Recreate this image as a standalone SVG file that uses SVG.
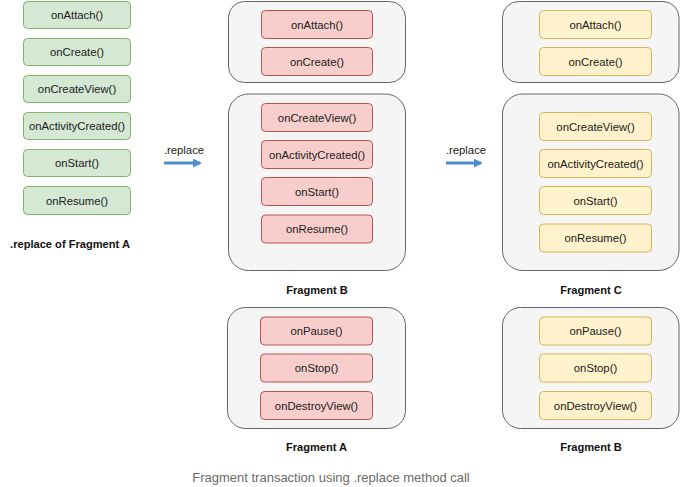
<svg xmlns="http://www.w3.org/2000/svg" width="680" height="487" viewBox="0 0 680 487">
<defs>
<style>
.g{fill:#d5e8d4;stroke:#82b366;stroke-width:1}
.r{fill:#f8cecc;stroke:#b85450;stroke-width:1}
.y{fill:#fff2cc;stroke:#d6b656;stroke-width:1}
.c{fill:#f5f5f5;stroke:#666666;stroke-width:1}
.t{font-family:"Liberation Sans",Arial,sans-serif;font-size:11.3px;fill:#1a1a1a;text-anchor:middle;dominant-baseline:central}
.b{font-family:"Liberation Sans",Arial,sans-serif;font-size:11.1px;font-weight:bold;fill:#111;text-anchor:middle;dominant-baseline:central}
.cap{font-family:"Liberation Sans",Arial,sans-serif;font-size:13px;fill:#6b6b6b;text-anchor:middle;dominant-baseline:central}
.arr{stroke:#4a90d0;stroke-width:3;fill:none}
</style>
<marker id="ah" viewBox="0 0 10 10" refX="8" refY="5" markerWidth="3" markerHeight="3" orient="auto" markerUnits="strokeWidth">
<path d="M0,0 L10,5 L0,10 Z" fill="#4a90d0"/>
</marker>
</defs>
<rect width="680" height="487" fill="#ffffff"/>

<g id="fragA-start">
<rect class="g" x="23.5" y="1.5" width="107" height="27" rx="4"/><text class="t" x="77" y="15">onAttach()</text>
<rect class="g" x="23.5" y="38.5" width="107" height="27" rx="4"/><text class="t" x="77" y="52">onCreate()</text>
<rect class="g" x="23.5" y="75.5" width="107" height="27" rx="4"/><text class="t" x="77" y="89">onCreateView()</text>
<rect class="g" x="23.5" y="112.5" width="107" height="27" rx="4"/><text class="t" x="77" y="126">onActivityCreated()</text>
<rect class="g" x="23.5" y="149.5" width="107" height="27" rx="4"/><text class="t" x="77" y="163">onStart()</text>
<rect class="g" x="23.5" y="186.5" width="107" height="28" rx="4"/><text class="t" x="77" y="200.5">onResume()</text>
<text class="b" x="70" y="244">.replace of Fragment A</text>
</g>

<g id="connectors">
<line class="arr" x1="164" y1="163" x2="200" y2="163" marker-end="url(#ah)"/>
<text class="t" x="184" y="150">.replace</text>
<line class="arr" x1="446" y1="163" x2="481" y2="163" marker-end="url(#ah)"/>
<text class="t" x="466" y="150">.replace</text>
</g>

<g id="fragB-create">
<rect class="c" x="228.5" y="1.5" width="177" height="81" rx="16"/>
<rect class="r" x="261.5" y="10.5" width="111" height="28" rx="4"/><text class="t" x="317" y="24.5">onAttach()</text>
<rect class="r" x="261.5" y="47.5" width="111" height="28" rx="4"/><text class="t" x="317" y="61.5">onCreate()</text>
</g>

<g id="fragB-view">
<rect class="c" x="228.5" y="94" width="177" height="176.5" rx="20"/>
<rect class="r" x="261.5" y="103.5" width="111" height="28" rx="4"/><text class="t" x="317" y="117.5">onCreateView()</text>
<rect class="r" x="261.5" y="140.5" width="111" height="28" rx="4"/><text class="t" x="317" y="154.5">onActivityCreated()</text>
<rect class="r" x="261.5" y="177.5" width="111" height="28" rx="4"/><text class="t" x="317" y="191.5">onStart()</text>
<rect class="r" x="261.5" y="215" width="111" height="28" rx="4"/><text class="t" x="317" y="229">onResume()</text>
<text class="b" x="317" y="290">Fragment B</text>
</g>

<g id="fragA-destroy">
<rect class="c" x="227.5" y="307.5" width="178" height="121" rx="18"/>
<rect class="r" x="260.5" y="317" width="112" height="28" rx="4"/><text class="t" x="316.5" y="331">onPause()</text>
<rect class="r" x="260.5" y="354" width="112" height="28" rx="4"/><text class="t" x="316.5" y="368">onStop()</text>
<rect class="r" x="260.5" y="391.5" width="112" height="28" rx="4"/><text class="t" x="316.5" y="405.5">onDestroyView()</text>
<text class="b" x="316.5" y="447">Fragment A</text>
</g>

<g id="fragC-create">
<rect class="c" x="502.5" y="1.5" width="176.5" height="81" rx="16"/>
<rect class="y" x="539.5" y="10.5" width="112" height="28" rx="4"/><text class="t" x="595.5" y="24.5">onAttach()</text>
<rect class="y" x="539.5" y="47.5" width="112" height="28" rx="4"/><text class="t" x="595.5" y="61.5">onCreate()</text>
</g>

<g id="fragC-view">
<rect class="c" x="502.5" y="94" width="176.5" height="176.5" rx="20"/>
<rect class="y" x="539.5" y="112.5" width="112" height="28" rx="4"/><text class="t" x="595.5" y="126.5">onCreateView()</text>
<rect class="y" x="539.5" y="149.5" width="112" height="28" rx="4"/><text class="t" x="595.5" y="163.5">onActivityCreated()</text>
<rect class="y" x="539.5" y="186.5" width="112" height="28" rx="4"/><text class="t" x="595.5" y="200.5">onStart()</text>
<rect class="y" x="539.5" y="224" width="112" height="28" rx="4"/><text class="t" x="595.5" y="238">onResume()</text>
<text class="b" x="591" y="290">Fragment C</text>
</g>

<g id="fragB-destroy">
<rect class="c" x="502.5" y="307.5" width="176.5" height="121" rx="18"/>
<rect class="y" x="539.5" y="317" width="112" height="28" rx="4"/><text class="t" x="595.5" y="331">onPause()</text>
<rect class="y" x="539.5" y="354" width="112" height="28" rx="4"/><text class="t" x="595.5" y="368">onStop()</text>
<rect class="y" x="539.5" y="391.5" width="112" height="28" rx="4"/><text class="t" x="595.5" y="405.5">onDestroyView()</text>
<text class="b" x="591" y="447">Fragment B</text>
</g>

<text class="cap" x="331" y="477">Fragment transaction using .replace method call</text>
</svg>
